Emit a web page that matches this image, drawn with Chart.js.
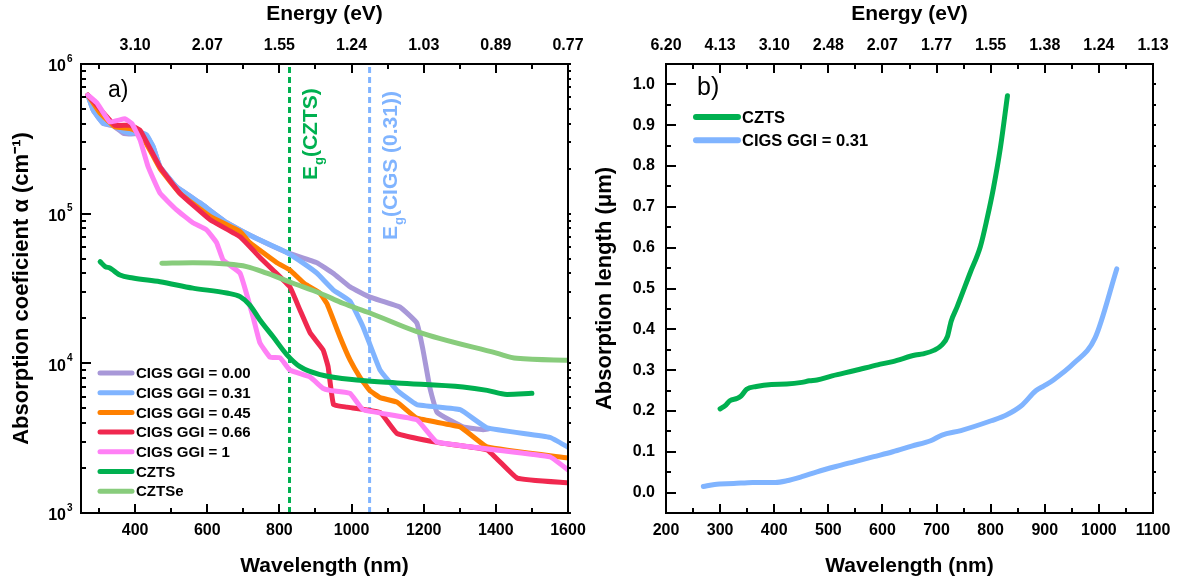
<!DOCTYPE html>
<html>
<head>
<meta charset="utf-8">
<script src="https://cdn.jsdelivr.net/npm/chart.js@4.4.0/dist/chart.umd.min.js"></script>
<style>
  html, body { margin: 0; padding: 0; background: #fff; }
  #wrap { position: relative; width: 1183px; height: 583px; }
  canvas { position: absolute; top: 0; }
  #absChart { left: 0; }
  #lenChart { left: 591px; }
</style>
</head>
<body>
<div id="wrap">
  <canvas id="absChart" width="591" height="583"></canvas>
  <canvas id="lenChart" width="592" height="583"></canvas>
</div>
<script>
// ---- a) absorption coefficient (cm-1) vs wavelength (nm) ----
const ggi000Nm = [269, 284, 312, 340, 367, 386, 414, 432, 450, 469, 515, 580, 654, 727, 821, 904, 949, 996, 1051, 1134, 1181, 1198, 1217, 1237, 1309, 1365, 1380];
const ggi000Alpha = [6.2e5, 4.9e5, 4.0e5, 3.85e5, 3.45e5, 3.4e5, 3.45e5, 3.3e5, 2.8e5, 2.06e5, 1.51e5, 1.18e5, 8.7e4, 7.0e4, 5.5e4, 4.7e4, 4.0e4, 3.24e4, 2.77e4, 2.38e4, 1.86e4, 1.23e4, 6.9e3, 4.7e3, 3.76e3, 3.6e3, 3.65e3];

const ggi031Nm = [269, 284, 312, 340, 367, 386, 414, 432, 450, 469, 515, 580, 654, 727, 820, 870, 904, 949, 996, 1032, 1079, 1126, 1181, 1301, 1376, 1550, 1600];
const ggi031Alpha = [6.2e5, 4.9e5, 4.0e5, 3.9e5, 3.55e5, 3.45e5, 3.5e5, 3.36e5, 2.8e5, 2.06e5, 1.51e5, 1.18e5, 8.7e4, 7.0e4, 5.5e4, 4.6e4, 4.0e4, 3.1e4, 2.6e4, 1.75e4, 9.0e3, 6.6e3, 5.3e3, 4.9e3, 3.7e3, 3.2e3, 2.75e3];

const ggi045Nm = [269, 303, 344, 386, 414, 441, 469, 524, 608, 691, 718, 793, 829, 870, 912, 932, 968, 996, 1023, 1050, 1079, 1126, 1181, 1301, 1376, 1600];
const ggi045Alpha = [6.2e5, 4.7e5, 3.8e5, 3.7e5, 3.46e5, 2.66e5, 2.0e5, 1.37e5, 9.6e4, 7.6e4, 6.4e4, 4.7e4, 4.2e4, 3.4e4, 2.95e4, 2.5e4, 1.5e4, 1.05e4, 8.1e3, 6.6e3, 5.9e3, 5.5e3, 4.3e3, 3.76e3, 2.76e3, 2.33e3];

const ggi066Nm = [269, 303, 344, 386, 414, 469, 524, 608, 691, 746, 782, 829, 857, 885, 921, 935, 950, 987, 1079, 1126, 1245, 1376, 1459, 1600];
const ggi066Alpha = [6.2e5, 5.0e5, 3.9e5, 3.9e5, 3.6e5, 2.05e5, 1.37e5, 9.1e4, 7.0e4, 5.1e4, 4.2e4, 3.24e4, 2.27e4, 1.6e4, 1.23e4, 9.5e3, 5.3e3, 5.1e3, 4.7e3, 3.4e3, 2.94e3, 2.64e3, 1.71e3, 1.59e3];

const ggi100Nm = [269, 294, 330, 372, 391, 414, 436, 469, 515, 560, 598, 626, 644, 691, 727, 746, 774, 802, 829, 885, 921, 940, 996, 1032, 1181, 1237, 1550, 1600];
const ggi100Alpha = [6.2e5, 5.5e5, 4.1e5, 4.3e5, 4.0e5, 3.1e5, 2.06e5, 1.37e5, 1.06e5, 8.7e4, 7.8e4, 6.4e4, 4.9e4, 4.0e4, 2.04e4, 1.37e4, 1.1e4, 1.09e4, 9.0e3, 8.1e3, 6.8e3, 6.6e3, 6.3e3, 4.9e3, 4.2e3, 2.98e3, 2.37e3, 1.94e3];

const cztsNm = [303, 317, 330, 344, 358, 394, 469, 560, 654, 691, 718, 746, 782, 821, 857, 913, 1023, 1126, 1309, 1376, 1431, 1500];
const cztsAlpha = [4.78e4, 4.43e4, 4.34e4, 4.1e4, 3.89e4, 3.72e4, 3.51e4, 3.18e4, 2.95e4, 2.79e4, 2.45e4, 1.95e4, 1.51e4, 1.14e4, 9.5e3, 8.4e3, 7.7e3, 7.4e3, 6.95e3, 6.6e3, 6.2e3, 6.3e3];

const cztseNm = [474, 560, 654, 709, 765, 838, 913, 976, 1051, 1181, 1402, 1458, 1600];
const cztseAlpha = [4.66e4, 4.7e4, 4.61e4, 4.43e4, 4.0e4, 3.43e4, 2.94e4, 2.52e4, 2.17e4, 1.63e4, 1.17e4, 1.08e4, 1.05e4];

// band gap positions (nm)
const egCztsNm = 828;
const egCigsNm = 1050;

// axis labels, panel a)
const nmTicksA = [400, 600, 800, 1000, 1200, 1400, 1600];
const evLabelsA = ['3.10', '2.07', '1.55', '1.24', '1.03', '0.89', '0.77'];
const alphaDecades = [3, 4, 5, 6];

// ---- b) absorption length (um) vs wavelength (nm) ----
const lenCztsNm = [300, 311, 318, 332, 339, 349, 367, 395, 423, 451, 465, 479, 507, 549, 591, 619, 661, 675, 696, 710, 720, 727, 738, 762, 781, 793, 805, 818, 831];
const lenCzts = [0.205, 0.215, 0.225, 0.231, 0.237, 0.253, 0.260, 0.265, 0.266, 0.270, 0.274, 0.276, 0.286, 0.299, 0.313, 0.321, 0.337, 0.340, 0.349, 0.362, 0.382, 0.420, 0.455, 0.538, 0.603, 0.669, 0.745, 0.845, 0.972];

const lenCigsNm = [269, 290, 325, 360, 402, 423, 451, 479, 514, 549, 584, 619, 654, 689, 710, 745, 801, 829, 856, 884, 898, 916, 953, 993, 1033];
const lenCigs = [0.015, 0.020, 0.022, 0.025, 0.025, 0.029, 0.039, 0.051, 0.064, 0.076, 0.088, 0.100, 0.114, 0.127, 0.141, 0.152, 0.176, 0.190, 0.212, 0.250, 0.261, 0.276, 0.316, 0.379, 0.548];

const nmTicksB = [200, 300, 400, 500, 600, 700, 800, 900, 1000, 1100];
const evLabelsB = ['6.20', '4.13', '3.10', '2.48', '2.07', '1.77', '1.55', '1.38', '1.24', '1.13'];
const lenTicks = [0, 0.1, 0.2, 0.3, 0.4, 0.5, 0.6, 0.7, 0.8, 0.9, 1.0];

const FONT = "'Liberation Sans', Arial, Helvetica, sans-serif";
Chart.defaults.font.family = FONT;
Chart.defaults.color = '#000';

const C = {
  purple: '#a898d8',
  blue: '#80b4ff',
  orange: '#ff8000',
  red: '#f0284f',
  pink: '#ff80f5',
  green: '#00b050',
  lightGreen: '#88cc7c',
};

function series(label, nm, vals, color, order, smooth) {
  return {
    label,
    order,
    inLegend: true,
    data: nm.map((x, i) => ({ x, y: vals[i] })),
    borderColor: color,
    backgroundColor: color,
    borderWidth: 5,
    pointRadius: 0,
    fill: false,
    cubicInterpolationMode: smooth ? 'monotone' : 'default',
    tension: smooth ? 0.4 : 0.1,
    borderCapStyle: 'round',
    borderJoinStyle: 'round',
  };
}

function gapLine(nm, y0, y1, color) {
  return {
    label: 'Eg',
    order: 50,
    inLegend: false,
    data: [{ x: nm, y: y0 }, { x: nm, y: y1 }],
    borderColor: color,
    borderWidth: 3,
    borderDash: [6, 4],
    pointRadius: 0,
    fill: false,
  };
}

// frame + inward tick marks on all four sides
function frameTicks(xTicks, yTicks) {
  return {
    id: 'frameTicks',
    afterDraw(chart) {
      const { ctx, chartArea: a, scales } = chart;
      ctx.save();
      ctx.strokeStyle = '#000';
      ctx.lineWidth = 2;
      ctx.beginPath();
      xTicks.forEach(([v, len]) => {
        const x = Math.round(scales.x.getPixelForValue(v));
        ctx.moveTo(x, a.bottom);
        ctx.lineTo(x, a.bottom - len);
        ctx.moveTo(x, a.top);
        ctx.lineTo(x, a.top + len);
      });
      yTicks.forEach(([v, len]) => {
        const y = Math.round(scales.y.getPixelForValue(v));
        ctx.moveTo(a.left, y);
        ctx.lineTo(a.left + len, y);
        ctx.moveTo(a.right, y);
        ctx.lineTo(a.right + 3, y);
      });
      ctx.stroke();
      ctx.strokeRect(a.left, a.top, a.right - a.left, a.bottom - a.top);
      ctx.restore();
    },
  };
}

// legend inside the plot area
function innerLegend(o) {
  return {
    id: 'innerLegend',
    afterDraw(chart) {
      const { ctx } = chart;
      ctx.save();
      ctx.font = `bold ${o.fontSize}px ${FONT}`;
      ctx.textBaseline = 'middle';
      ctx.textAlign = 'left';
      ctx.lineCap = 'round';
      chart.data.datasets.filter((d) => d.inLegend).forEach((d, i) => {
        const y = o.y + i * o.dy;
        ctx.strokeStyle = d.borderColor;
        ctx.lineWidth = o.lineWidth;
        ctx.beginPath();
        ctx.moveTo(o.x, y);
        ctx.lineTo(o.x + o.len, y);
        ctx.stroke();
        ctx.fillStyle = '#000';
        ctx.fillText(d.label, o.x + o.len + 4, y + 1);
      });
      ctx.restore();
    },
  };
}

// panel letter
function panelTag(text, x, y, size) {
  return {
    id: 'panelTag',
    afterDraw(chart) {
      const { ctx } = chart;
      ctx.save();
      ctx.font = `${size}px ${FONT}`;
      ctx.fillStyle = '#000';
      ctx.textBaseline = 'middle';
      ctx.fillText(text, x, y);
      ctx.restore();
    },
  };
}

// 10^n labels for the log axis
const powerLabels = {
  id: 'powerLabels',
  afterDraw(chart) {
    const { ctx, chartArea: a, scales } = chart;
    ctx.save();
    ctx.fillStyle = '#000';
    ctx.textBaseline = 'middle';
    alphaDecades.forEach((d) => {
      const y = scales.y.getPixelForValue(Math.pow(10, d));
      ctx.font = `bold 16px ${FONT}`;
      ctx.textAlign = 'right';
      ctx.fillText('10', a.left - 15, y + 3);
      ctx.font = `bold 10px ${FONT}`;
      ctx.textAlign = 'left';
      ctx.fillText(String(d), a.left - 14, y - 5);
    });
    ctx.restore();
  },
};

// rotated Eg(...) captions next to the dashed lines
const gapItems = [
  { nm: egCztsNm, bottom: 180, text: '(CZTS)', color: C.green },
  { nm: egCigsNm, bottom: 240, text: '(CIGS (0.31))', color: C.blue },
];
const gapCaptions = {
  id: 'gapCaptions',
  afterDraw(chart) {
    const { ctx, scales } = chart;
    gapItems.forEach((it) => {
      const x = scales.x.getPixelForValue(it.nm) + 27;
      ctx.save();
      ctx.translate(x, it.bottom);
      ctx.rotate(-Math.PI / 2);
      ctx.fillStyle = it.color;
      ctx.textAlign = 'left';
      ctx.textBaseline = 'alphabetic';
      ctx.font = `bold 21px ${FONT}`;
      ctx.fillText('E', 0, 0);
      let w = ctx.measureText('E').width;
      ctx.font = `bold 13px ${FONT}`;
      ctx.fillText('g', w + 1, 6);
      w += ctx.measureText('g').width + 1;
      ctx.font = `bold 21px ${FONT}`;
      ctx.fillText(it.text, w, 0);
      ctx.restore();
    });
  },
};

const tickFont = { size: 16, weight: 'bold' };
const xTitleFont = { size: 21, weight: 'bold' };
const yTitleFont = { size: 22, weight: 'bold' };
const noGrid = { display: false, drawTicks: false };

function fixedX(height) {
  return (s) => {
    s.height = height;
    s.paddingLeft = 0;
    s.paddingRight = 0;
  };
}
function fixedY(width) {
  return (s) => {
    s.width = width;
    s.paddingTop = 0;
    s.paddingBottom = 0;
  };
}

// ---------- panel a) ----------
const xTicksA = [];
for (let v = 300; v <= 1600; v += 100) xTicksA.push([v, v % 200 === 0 ? 9 : 5]);
const yTicksA = [];
for (let d = 3; d < 6; d++) {
  for (let m = 1; m <= 9; m++) yTicksA.push([m * Math.pow(10, d), m === 1 ? 10 : 5]);
}
yTicksA.push([1e6, 10]);

new Chart(document.getElementById('absChart'), {
  type: 'line',
  data: {
    datasets: [
      series('CIGS GGI = 0.00', ggi000Nm, ggi000Alpha, C.purple, 9),
      series('CIGS GGI = 0.31', ggi031Nm, ggi031Alpha, C.blue, 8),
      series('CIGS GGI = 0.45', ggi045Nm, ggi045Alpha, C.orange, 7),
      series('CIGS GGI = 0.66', ggi066Nm, ggi066Alpha, C.red, 6),
      series('CIGS GGI = 1', ggi100Nm, ggi100Alpha, C.pink, 5),
      series('CZTS', cztsNm, cztsAlpha, C.green, 4, true),
      series('CZTSe', cztseNm, cztseAlpha, C.lightGreen, 3, true),
      gapLine(egCztsNm, 1e3, 1e6, C.green),
      gapLine(egCigsNm, 1e3, 1e6, C.blue),
    ],
  },
  options: {
    responsive: false,
    animation: false,
    layout: { padding: { right: 23 } },
    plugins: {
      legend: { display: false },
      tooltip: { enabled: false },
    },
    scales: {
      x: {
        type: 'linear',
        position: 'bottom',
        min: 250,
        max: 1600,
        afterBuildTicks: (s) => { s.ticks = nmTicksA.map((value) => ({ value })); },
        afterFit: fixedX(70),
        grid: noGrid,
        border: { display: false },
        ticks: { autoSkip: false, maxRotation: 0, minRotation: 0, padding: 8, font: tickFont, callback: (v) => String(v) },
        title: { display: true, text: 'Wavelength (nm)', font: xTitleFont, padding: { top: 0, bottom: 4 } },
      },
      x2: {
        type: 'linear',
        position: 'top',
        min: 250,
        max: 1600,
        afterBuildTicks: (s) => { s.ticks = nmTicksA.map((value) => ({ value })); },
        afterFit: fixedX(64),
        grid: noGrid,
        border: { display: false },
        ticks: { autoSkip: false, maxRotation: 0, minRotation: 0, padding: 9, font: tickFont, callback: (v) => evLabelsA[nmTicksA.indexOf(v)] },
        title: { display: true, text: 'Energy (eV)', font: xTitleFont, padding: { top: 2, bottom: 0 } },
      },
      y: {
        type: 'logarithmic',
        position: 'left',
        min: 1e3,
        max: 1e6,
        afterBuildTicks: (s) => { s.ticks = alphaDecades.map((d) => ({ value: Math.pow(10, d) })); },
        afterFit: fixedY(81),
        grid: noGrid,
        border: { display: false },
        ticks: { display: false },
        title: { display: true, text: 'Absorption coeficient \u03b1 (cm\u207b\u00b9)', font: yTitleFont, padding: { top: 9, bottom: 0 } },
      },
    },
  },
  plugins: [
    frameTicks(xTicksA, yTicksA),
    innerLegend({ x: 100, y: 373, dy: 19.7, len: 32, lineWidth: 5, fontSize: 15 }),
    panelTag('a)', 108, 91, 23),
    powerLabels,
    gapCaptions,
  ],
});

// ---------- panel b) ----------
const xTicksB = [];
for (let v = 200; v <= 1100; v += 50) xTicksB.push([v, v % 100 === 0 ? 9 : 5]);
const yTicksB = [];
for (let i = 0; i <= 20; i++) yTicksB.push([i * 0.05, i % 2 === 0 ? 10 : 5]);

new Chart(document.getElementById('lenChart'), {
  type: 'line',
  data: {
    datasets: [
      series('CZTS', lenCztsNm, lenCzts, C.green, 1, true),
      series('CIGS GGI = 0.31', lenCigsNm, lenCigs, C.blue, 2, true),
    ],
  },
  options: {
    responsive: false,
    animation: false,
    layout: { padding: { right: 30 } },
    plugins: {
      legend: { display: false },
      tooltip: { enabled: false },
    },
    scales: {
      x: {
        type: 'linear',
        position: 'bottom',
        min: 200,
        max: 1100,
        afterBuildTicks: (s) => { s.ticks = nmTicksB.map((value) => ({ value })); },
        afterFit: fixedX(70),
        grid: noGrid,
        border: { display: false },
        ticks: { autoSkip: false, maxRotation: 0, minRotation: 0, padding: 8, font: tickFont, callback: (v) => String(v) },
        title: { display: true, text: 'Wavelength (nm)', font: xTitleFont, padding: { top: 0, bottom: 4 } },
      },
      x2: {
        type: 'linear',
        position: 'top',
        min: 200,
        max: 1100,
        afterBuildTicks: (s) => { s.ticks = nmTicksB.map((value) => ({ value })); },
        afterFit: fixedX(64),
        grid: noGrid,
        border: { display: false },
        ticks: { autoSkip: false, maxRotation: 0, minRotation: 0, padding: 9, font: tickFont, callback: (v) => evLabelsB[nmTicksB.indexOf(v)] },
        title: { display: true, text: 'Energy (eV)', font: xTitleFont, padding: { top: 2, bottom: 0 } },
      },
      y: {
        type: 'linear',
        position: 'left',
        min: -0.05,
        max: 1.05,
        afterBuildTicks: (s) => { s.ticks = lenTicks.map((value) => ({ value })); },
        afterFit: fixedY(75),
        grid: noGrid,
        border: { display: false },
        ticks: { padding: 11, font: tickFont, callback: (v) => v.toFixed(1) },
        title: { display: true, text: 'Absorption length (\u03bcm)', font: yTitleFont, padding: { top: 1, bottom: 0 } },
      },
    },
  },
  plugins: [
    frameTicks(xTicksB, yTicksB),
    innerLegend({ x: 105, y: 117, dy: 23.3, len: 42, lineWidth: 6, fontSize: 16.5 }),
    panelTag('b)', 106, 88, 25),
  ],
});
</script>
</body>
</html>
